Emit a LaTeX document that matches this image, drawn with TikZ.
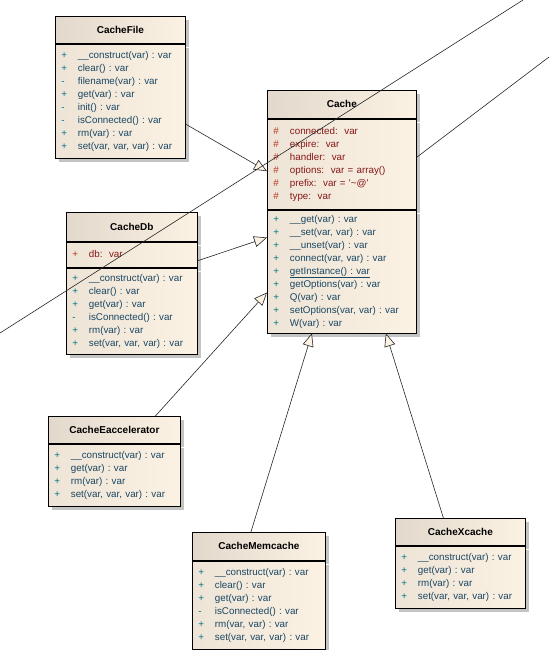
\documentclass[tikz,border=0pt]{standalone}
\usepackage{fontspec}
\setmainfont{Liberation Sans}
\usepackage{array}
\usetikzlibrary{arrows.meta, calc, shadows}
\definecolor{umlcream}{HTML}{FCF2E4}
\definecolor{umlbeige}{HTML}{E2D8CB}
\definecolor{umlshadow}{HTML}{C4C4C4}
\definecolor{opcolor}{HTML}{1A4763}
\definecolor{opvis}{HTML}{00758A}
\definecolor{attrcolor}{HTML}{861818}
\definecolor{attrvis}{HTML}{B8321E}
\newcolumntype{O}{>{\color{opvis}}w{l}{16.5pt}@{}>{\color{opcolor}}l}
\newcolumntype{A}{>{\color{attrvis}}w{l}{16.5pt}@{}>{\color{attrcolor}}l}
\frenchspacing

\begin{document}
\begin{tikzpicture}[
  x=1pt, y=-1pt,
  classhead/.style={
    draw, line width=0.8pt, anchor=north west, inner sep=0pt,
    left color=umlbeige, right color=umlcream,
    font=\bfseries\fontsize{10}{12}\selectfont,
    drop shadow={shadow xshift=4pt, shadow yshift=-4pt, fill=umlshadow, opacity=1}
  },
  compart/.style={
    draw, line width=0.8pt, anchor=north west, inner xsep=6pt, inner ysep=0pt,
    left color=umlbeige!55!umlcream, right color=umlcream, align=left,
    font=\fontsize{9.8}{13}\selectfont,
    drop shadow={shadow xshift=4pt, shadow yshift=-4pt, fill=umlshadow, opacity=1}
  },
  gen/.style={-{Triangle[length=13pt, width=11pt, fill=umlcream]}, line width=0.6pt, draw=black!85},
  passline/.style={line width=0.6pt, draw=black!85},
]
\useasboundingbox (0,0) rectangle (549,650);

% Cache
\node[classhead, minimum width=149, minimum height=28] (cachehead) at (267,90) {Cache};
\node[compart, text width=137, minimum height=90] (cacheattr) at (cachehead.south west) {%
  \begin{tabular}{@{}A@{}}
  \# & connected:\ \ var\\
  \# & expire:\ \ var\\
  \# & handler:\ \ var\\
  \# & options:\ \ var = array()\\
  \# & prefix:\ \ var = \textquotesingle\textasciitilde@\textquotesingle\\
  \# & type:\ \ var
  \end{tabular}};
\node[compart, text width=137, minimum height=123] (cacheops) at (cacheattr.south west) {%
  \begin{tabular}{@{}O@{}}
  + & \_\_get(var) : var\\
  + & \_\_set(var, var) : var\\
  + & \_\_unset(var) : var\\
  + & connect(var, var) : var\\
  + & \underline{getInstance() : var}\\
  + & getOptions(var) : var\\
  + & Q(var) : var\\
  + & setOptions(var, var) : var\\
  + & W(var) : var
  \end{tabular}};

% CacheFile
\node[classhead, minimum width=130, minimum height=27] (filehead) at (55,16) {CacheFile};
\node[compart, text width=118, minimum height=114] (fileops) at (filehead.south west) {%
  \begin{tabular}{@{}O@{}}
  + & \_\_construct(var) : var\\
  + & clear() : var\\
  - & filename(var) : var\\
  + & get(var) : var\\
  - & init() : var\\
  - & isConnected() : var\\
  + & rm(var) : var\\
  + & set(var, var, var) : var
  \end{tabular}};

% CacheDb
\node[classhead, minimum width=131, minimum height=29] (dbhead) at (66,212) {CacheDb};
\node[compart, text width=119, minimum height=25] (dbattr) at (dbhead.south west) {%
  \begin{tabular}{@{}A@{}}
  + & db:\ \ var
  \end{tabular}};
\node[compart, text width=119, minimum height=86] (dbops) at (dbattr.south west) {%
  \begin{tabular}{@{}O@{}}
  + & \_\_construct(var) : var\\
  + & clear() : var\\
  + & get(var) : var\\
  - & isConnected() : var\\
  + & rm(var) : var\\
  + & set(var, var, var) : var
  \end{tabular}};

% CacheEaccelerator
\node[classhead, minimum width=132, minimum height=27] (eacchead) at (48,416) {CacheEaccelerator};
\node[compart, text width=120, minimum height=62] (eaccops) at (eacchead.south west) {%
  \begin{tabular}{@{}O@{}}
  + & \_\_construct(var) : var\\
  + & get(var) : var\\
  + & rm(var) : var\\
  + & set(var, var, var) : var
  \end{tabular}};

% CacheMemcache
\node[classhead, minimum width=133, minimum height=28] (memhead) at (192,532) {CacheMemcache};
\node[compart, text width=121, minimum height=88] (memops) at (memhead.south west) {%
  \begin{tabular}{@{}O@{}}
  + & \_\_construct(var) : var\\
  + & clear() : var\\
  + & get(var) : var\\
  - & isConnected() : var\\
  + & rm(var, var) : var\\
  + & set(var, var, var) : var
  \end{tabular}};

% CacheXcache
\node[classhead, minimum width=130, minimum height=27] (xchead) at (395,518) {CacheXcache};
\node[compart, text width=118, minimum height=62] (xcops) at (xchead.south west) {%
  \begin{tabular}{@{}O@{}}
  + & \_\_construct(var) : var\\
  + & get(var) : var\\
  + & rm(var) : var\\
  + & set(var, var, var) : var
  \end{tabular}};

% generalizations
\draw[gen] ([yshift=-23pt]fileops.east) -- ([yshift=-7pt]cacheattr.west);
\draw[gen] ([yshift=-6pt]dbattr.east) -- ([yshift=34pt]cacheops.west);
\draw[gen] ([xshift=41pt]eacchead.north) -- ([yshift=-21pt]cacheops.west);
\draw[gen] ([xshift=-8pt]memhead.north) -- ([xshift=-30pt]cacheops.south);
\draw[gen] ([xshift=-17pt]xchead.north) -- ([xshift=44pt]cacheops.south);

% lines to classes outside the view
\coordinate (offleft) at (0,333);
\coordinate (offtop) at (523,0);
\coordinate (offright) at (549,57);
\draw[passline] (offleft) -- (offtop);
\draw[passline] ([yshift=7pt]cacheattr.east) -- (offright);

\end{tikzpicture}
\end{document}
